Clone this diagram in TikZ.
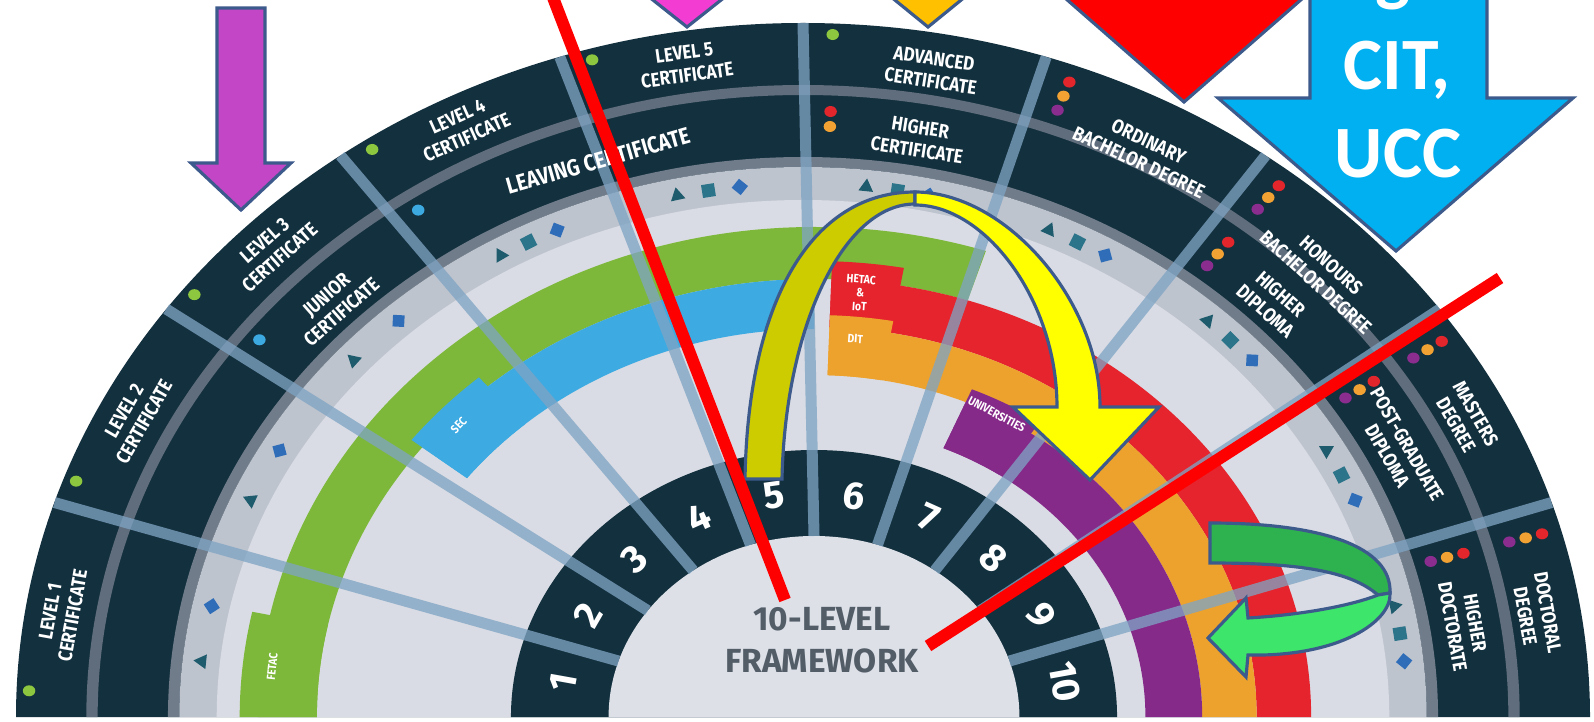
\documentclass[tikz,border=0pt]{standalone}
\usepackage{fontspec}
\setmainfont{Fira Sans}
\newfontfamily\bandfont[FakeStretch=0.86]{Fira Sans}
\newfontfamily\slidefont{Carlito}
\usetikzlibrary{shapes.geometric}

\definecolor{nfqnavy}{HTML}{13303E}
\definecolor{nfqsep}{HTML}{5F6D7C}
\definecolor{nfqstripe}{HTML}{707C8A}
\definecolor{nfqband}{HTML}{BEC4CE}
\definecolor{nfqback}{HTML}{D9DCE4}
\definecolor{nfqcore}{HTML}{DDE0E7}
\definecolor{nfqtext}{HTML}{525D68}
\definecolor{nfqspoke}{HTML}{7FA4C4}
\definecolor{nfqgreen}{HTML}{7DB83A}
\definecolor{nfqblue}{HTML}{3DAAE2}
\definecolor{nfqred}{HTML}{E5242E}
\definecolor{nfqorange}{HTML}{EEA22E}
\definecolor{nfqpurple}{HTML}{862A8A}
\definecolor{dotgreen}{HTML}{8DC63F}
\definecolor{dotblue}{HTML}{3CA9E1}
\definecolor{dotred}{HTML}{E2262C}
\definecolor{dotorange}{HTML}{F2A233}
\definecolor{dotpurple}{HTML}{8B2D8F}
\definecolor{tritone}{HTML}{1E5B6C}
\definecolor{sqtone}{HTML}{2B7489}
\definecolor{diatone}{HTML}{2F6DB8}
\definecolor{slideedge}{HTML}{3C5A8C}
\definecolor{arrowpurple}{HTML}{C346C6}
\definecolor{arrowpink}{HTML}{F23CD2}
\definecolor{arrowgold}{HTML}{FFC000}
\definecolor{arrowblue}{HTML}{00B0F0}
\definecolor{archback}{HTML}{CCCC00}
\definecolor{archfront}{HTML}{FFFF00}
\definecolor{loopdark}{HTML}{2EB24F}
\definecolor{looplight}{HTML}{3DE66A}

% ring piece: start angle, end angle, outer radius, inner radius
\newcommand*\fanband[4]{(#1:#3) arc[start angle=#1, end angle=#2, radius=#3] -- (#2:#4) arc[start angle=#2, end angle=#1, radius=#4] -- cycle}
\newcommand*\halfdisc[1]{(0:#1) arc[start angle=0, end angle=180, radius=#1] -- cycle}

\tikzset{nfq/.cd,
         outer/.style={shift={(803,4)}, xscale=1.134},
         inner/.style={shift={(814,4)}, xscale=1.135},
         spoke/.style={draw=nfqspoke, line width=0.11cm, opacity=0.76},
         num/.style={text=white, inner sep=0pt, font=\bfseries\fontsize{11}{11}\selectfont},
         bandtext/.style={text=white, align=center, inner sep=0pt, font=\bandfont\bfseries\fontsize{5.6}{6.5}\selectfont},
         arctext/.style={text=white, align=center, inner sep=0pt, font=\bandfont\bfseries\fontsize{3.4}{3.9}\selectfont},
         coretext/.style={text=nfqtext, align=center, font=\bfseries\fontsize{9.5}{12}\selectfont},
         tri/.style={regular polygon, regular polygon sides=3, fill=tritone, minimum size=0.17cm, inner sep=0pt},
         sq/.style={rectangle, fill=sqtone, minimum size=0.13cm, inner sep=0pt},
         dia/.style={diamond, fill=diatone, minimum width=0.17cm, minimum height=0.17cm, inner sep=0pt}}
\tikzset{slide/.cd,
         block/.style={draw=slideedge, line width=0.9pt, line join=miter},
         slash/.style={draw=red, line width=0.12cm},
         caption/.style={text=white, inner sep=0pt, font=\slidefont\bfseries\fontsize{21}{25}\selectfont}}

\begin{document}
\begin{tikzpicture}[x=0.01cm, y=0.01cm]
\useasboundingbox (0,0) rectangle (1594,721);
\fill[white] (0,0) rectangle (1594,721);

% award bands
\begin{scope}[nfq/outer]
  \fill[nfqnavy] \halfdisc{694};
  \fill[nfqsep] \fanband{0}{180}{632}{622};
  \fill[nfqstripe] \fanband{0}{180}{560}{550};
  \fill[nfqband] \halfdisc{550};
  \fill[nfqback] \halfdisc{517};
  \foreach \a in {18,36,...,162}
    \coordinate (rim\a) at (\a:694);
\end{scope}

% providers and levels
\begin{scope}[nfq/inner]
  \fill[nfqgreen] \fanband{72}{180}{490}{438};
  \fill[nfqgreen] \fanband{168}{180}{506}{438};
  \fill[nfqblue] \fanband{90}{142}{438}{388};
  \fill[nfqblue] \fanband{131}{142}{450}{388};
  \fill[nfqred] \fanband{0}{88}{438}{390};
  \fill[nfqred] \fanband{80}{88}{456}{390};
  \fill[nfqorange] \fanband{0}{88}{390}{342};
  \fill[nfqorange] \fanband{80}{88}{402}{342};
  \fill[nfqpurple] \fanband{0}{67}{342}{292};
  \fill[nfqpurple] \fanband{56}{67}{356}{292};
  \fill[nfqnavy] \halfdisc{267};
  \fill[nfqcore] \halfdisc{181};
  \foreach \a in {18,36,...,162}
    \coordinate (hub\a) at (\a:181);
\end{scope}

\foreach \a in {18,36,...,162}
  \draw[nfq/spoke] (hub\a) -- (rim\a);

\begin{scope}[nfq/outer]
  % marks
  \foreach \a/\kind [count=\idx] in {174/tri,168/dia,156/tri,150/dia,138/tri,132/dia,
      120/tri,117/sq,114/dia,102/tri,99/sq,96/dia,84/tri,81/sq,78/dia,66/tri,63/sq,60/dia,
      48/tri,45/sq,42/dia,30/tri,27/sq,24/dia,12/tri,9/sq,6/dia}
    \node[nfq/\kind, rotate=\a-90] (mark\idx) at (\a:533) {};
  % dots
  \foreach \a in {177.8,159.8,141.8,123.8,105.8,87.8}
    \fill[dotgreen] (\a:683) circle[radius=5.5];
  \foreach \a in {69.7,51.7,33.7,15.7}{
    \fill[dotred] (\a:677) circle[radius=5.5];
    \fill[dotorange] (\a:662) circle[radius=5.5];
    \fill[dotpurple] (\a:647) circle[radius=5.5];
  }
  \foreach \a in {141.8,123.8}
    \fill[dotblue] (\a:610) circle[radius=5.5];
  \fill[dotred] (87.7:606) circle[radius=5.5];
  \fill[dotorange] (87.7:591) circle[radius=5.5];
  \foreach \a in {51.7,33.7,15.7}{
    \fill[dotred] (\a:605) circle[radius=5.5];
    \fill[dotorange] (\a:590) circle[radius=5.5];
    \fill[dotpurple] (\a:575) circle[radius=5.5];
  }
  % award names
  \foreach \a/\rad/\txt [count=\idx] in {171/662/{LEVEL 1\\CERTIFICATE},153/662/{LEVEL 2\\CERTIFICATE},
      135/662/{LEVEL 3\\CERTIFICATE},117/662/{LEVEL 4\\CERTIFICATE},99/661/{LEVEL 5\\CERTIFICATE},
      80/657/{ADVANCED\\CERTIFICATE},62/640/{ORDINARY\\BACHELOR DEGREE},44/638/{HONOURS\\BACHELOR DEGREE},
      27/656/{MASTERS\\DEGREE},9/655/{DOCTORAL\\DEGREE},
      135/585/{JUNIOR\\CERTIFICATE},108/585/{\fontsize{6.6}{7}\selectfont LEAVING CERTIFICATE},
      80/587/{HIGHER\\CERTIFICATE},45/586/{HIGHER\\DIPLOMA},27/588/{POST-GRADUATE\\DIPLOMA},
      9/590/{HIGHER\\DOCTORATE}}{
    \pgfmathsetmacro\turn{atan2(-cos(\a),1.134*sin(\a))}
    \node[nfq/bandtext, rotate=\turn] (award\idx) at (\a:\rad) {\txt};
  }
\end{scope}

\begin{scope}[nfq/inner]
  \foreach \n in {1,...,10}{
    \pgfmathsetmacro\a{189-18*\n}
    \pgfmathsetmacro\turn{atan2(-cos(\a),1.135*sin(\a))}
    \node[nfq/num, rotate=\turn] (lvl\n) at (\a:224) {\n};
  }
  \node[nfq/arctext, rotate=84] (fetac) at (174:480) {FETAC};
  \node[nfq/arctext, rotate=47] (sec) at (137:428) {SEC};
  \node[nfq/arctext, rotate=-4] (hetac) at (84.5:426) {HETAC\\\&\\IoT};
  \node[nfq/arctext, rotate=-4] (dit) at (84.5:380) {DIT};
  \node[nfq/arctext, rotate=-28] (univ) at (62:343) {UNIVERSITIES};
\end{scope}
\node[nfq/coretext] (framework) at (822,81) {10-LEVEL\\FRAMEWORK};

\begin{scope}
  \clip (0,0) rectangle (1594,721);
  % block arrows from the slide
  \filldraw[slide/block, fill=arrowpurple] (217,713) -- (265,713) -- (265,558) -- (291,558)
      -- (241,511) -- (191,558) -- (217,558) -- cycle;
  \filldraw[slide/block, fill=arrowpink] (615,751) -- (687,694) -- (759,751);
  \filldraw[slide/block, fill=arrowgold] (858,751) -- (928,694) -- (998,751);
  \filldraw[slide/block, fill=red] (1033,751) -- (1184,619) -- (1335,751);
  \filldraw[slide/block, fill=arrowblue] (1310,760) -- (1310,623) -- (1218,623) -- (1396,470)
      -- (1573,623) -- (1487,623) -- (1487,760);
  \node[slide/caption, anchor=base] (gtail) at (1393,723) {g};
  \node[slide/caption, anchor=base] (cit) at (1397,631) {CIT,};
  \node[slide/caption, anchor=base] (ucc) at (1398,543) {UCC};
  % arch
  \filldraw[slide/block, fill=archback] (745,242) .. controls (748,421) and (812,529) .. (915,529)
      -- (915,517) .. controls (842,517) and (785,391) .. (782,242) -- cycle;
  \filldraw[slide/block, fill=archfront] (915,529) .. controls (1005,529) and (1100,421) .. (1100,314)
      -- (1159,314) -- (1090,241) -- (1013,314) -- (1057,314)
      .. controls (1057,421) and (985,516) .. (915,516) -- cycle;
  % loop
  \filldraw[slide/block, fill=loopdark] (1210,198) .. controls (1320,198) and (1392,175) .. (1390,128)
      -- (1378,126) .. controls (1350,150) and (1300,158) .. (1210,158) -- cycle;
  \filldraw[slide/block, fill=looplight] (1390,128) .. controls (1392,100) and (1340,64) .. (1248,66)
      -- (1246,44) -- (1208,83) -- (1246,123) -- (1248,103)
      .. controls (1300,106) and (1350,115) .. (1378,126) -- cycle;
  % red strokes
  \coordinate (slashAtop) at (552,726);
  \coordinate (slashAend) at (785,121);
  \coordinate (slashBtop) at (1500,443);
  \coordinate (slashBend) at (928,75);
  \draw[slide/slash] (slashAtop) -- (slashAend);
  \draw[slide/slash] (slashBtop) -- (slashBend);
\end{scope}
\end{tikzpicture}
\end{document}
